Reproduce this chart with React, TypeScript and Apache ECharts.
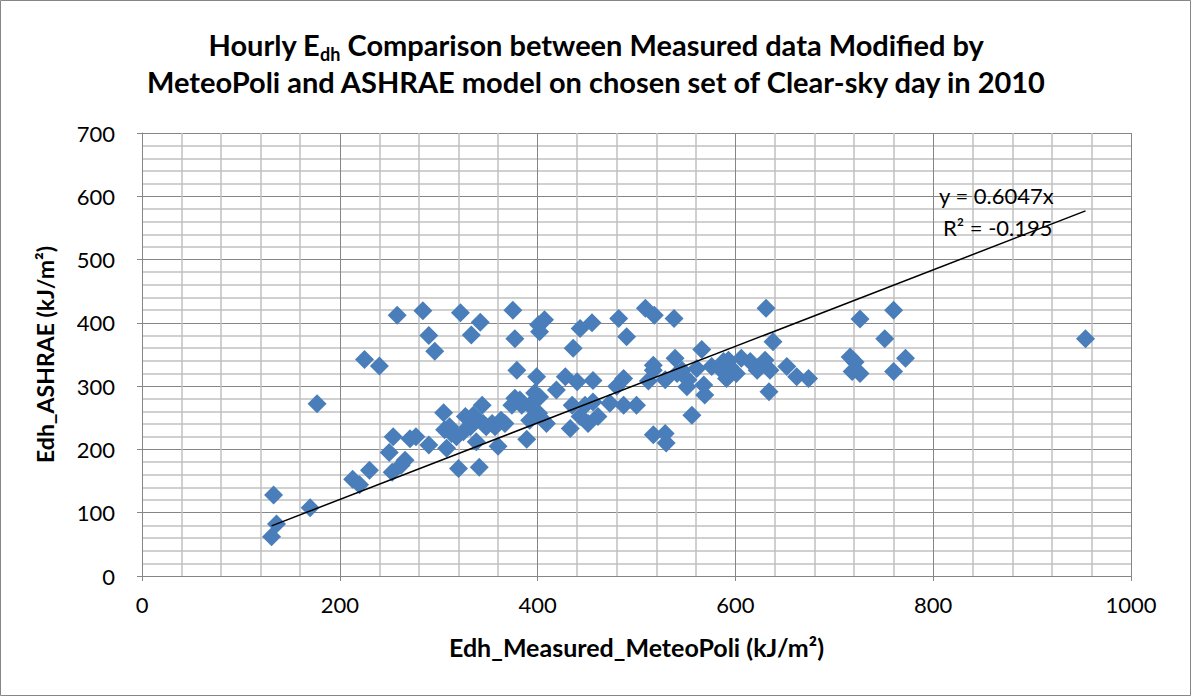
import React, { useEffect, useRef } from "react";
import * as echarts from "echarts";

const measured: number[] = [
  133, 136, 131, 170, 177, 213, 220, 230, 225, 240, 258, 284, 290, 296, 322, 333, 342,
  250, 254, 253, 262, 266, 271, 277, 290, 305, 306, 311, 313, 308, 318, 320, 327, 325,
  332, 335, 338, 337, 341, 344, 345, 348, 354, 357, 360, 363, 367, 374, 377, 382, 384,
  392, 397, 402, 392, 401, 409, 389, 375, 401, 407, 402, 377, 379, 399, 428, 440, 456,
  419, 436, 443, 455, 482, 490, 509, 518, 433, 435, 448, 456, 443, 451, 461, 473, 487,
  500, 480, 487, 517, 512, 517, 529, 538, 539, 541, 546, 561, 552, 551, 568, 569, 566,
  556, 517, 529, 530, 576, 588, 594, 591, 606, 615, 601, 622, 630, 635, 652, 662, 674,
  634, 631, 638, 726, 760, 751, 772, 716, 721, 718, 726, 760, 954, 623, 593, 586,
];
const ashrae: number[] = [
  128, 82, 62, 108, 272, 153, 144, 167, 342, 332, 412, 419, 380, 355, 416, 381, 401,
  195, 220, 164, 175, 183, 217, 220, 207, 258, 231, 236, 225, 202, 220, 170, 252, 228,
  236, 254, 212, 249, 172, 270, 241, 236, 241, 236, 205, 246, 241, 270, 281, 278, 270,
  270, 289, 283, 246, 257, 241, 216, 420, 397, 405, 386, 375, 325, 315, 315, 307, 309,
  294, 360, 391, 400, 407, 378, 423, 412, 233, 270, 270, 275, 252, 241, 252, 273, 270,
  270, 300, 312, 333, 308, 325, 310, 407, 344, 320, 325, 328, 310, 299, 302, 286, 358,
  254, 223, 225, 210, 331, 339, 331, 312, 344, 339, 320, 325, 341, 325, 331, 315, 312,
  291, 423, 370, 406, 420, 375, 344, 346, 338, 323, 320, 323, 375, 330, 341, 325,
];
const trendSlope = 0.6047;
const trendLabel = "y = 0.6047x";
const r2Label = "R² = -0.195";
const xTicks = { min: 0, max: 1000, interval: 200 };
const yTicks = { min: 0, max: 700, interval: 100 };
const titleLine1a = "Hourly E";
const titleSub = "dh";
const titleLine1b = " Comparison between Measured data Modified by";
const titleLine2 = "MeteoPoli and ASHRAE model on chosen set of Clear-sky day in 2010";
const xName = "Edh_Measured_MeteoPoli (kJ/m²)";
const yName = "Edh_ASHRAE (kJ/m²)";

const FONT = "Lato";

export default function App() {
  const ref = useRef<HTMLDivElement>(null);
  useEffect(() => {
    if (!ref.current) return;
    const chart = echarts.init(ref.current, undefined, { renderer: "svg" });
    const points = measured.map((x, i) => [x, ashrae[i]]);
    const xmin = Math.min(...measured);
    const xmax = Math.max(...measured);
    const trend = [
      [xmin, trendSlope * xmin],
      [xmax, trendSlope * xmax],
    ];
    const axisLine = { show: true, lineStyle: { color: "#868686", width: 1 } };
    chart.setOption({
      animation: false,
      backgroundColor: "#ffffff",
      title: {
        left: "center",
        top: 21,
        text:
          "{a|" + titleLine1a + "}{s|" + titleSub + "}{a|" + titleLine1b + "}\n{a|" + titleLine2 + "}",
        textStyle: {
          rich: {
            a: { fontSize: 29, fontWeight: "bold", fontFamily: FONT, lineHeight: 37, color: "#000" },
            s: {
              fontSize: 18,
              fontWeight: "bold",
              fontFamily: FONT,
              lineHeight: 22,
              verticalAlign: "bottom",
              color: "#000",
            },
          },
        },
      },
      grid: { left: 142, right: 61, top: 133, bottom: 121, containLabel: false },
      xAxis: {
        type: "value",
        min: xTicks.min,
        max: xTicks.max,
        interval: xTicks.interval,
        name: xName,
        nameLocation: "middle",
        nameGap: 58,
        nameTextStyle: { fontSize: 25, fontWeight: "bold", fontFamily: FONT, color: "#000" },
        axisLine,
        axisTick: { show: true, inside: false, length: 5, lineStyle: { color: "#868686" } },
        axisLabel: {
          fontSize: 22,
          fontFamily: FONT,
          color: "#000",
          margin: 17,
          formatter: (v: number) => String(v),
        },
        splitLine: { show: true, lineStyle: { color: "#868686", width: 1 } },
        minorTick: { show: false, splitNumber: 5 },
        minorSplitLine: { show: true, lineStyle: { color: "#c0c0c0", width: 1.5 } },
      },
      yAxis: {
        type: "value",
        min: yTicks.min,
        max: yTicks.max,
        interval: yTicks.interval,
        name: yName,
        nameLocation: "middle",
        nameGap: 86,
        nameRotate: 90,
        nameTextStyle: { fontSize: 23, fontWeight: "bold", fontFamily: FONT, color: "#000" },
        axisLine,
        axisTick: { show: true, inside: false, length: 5, lineStyle: { color: "#868686" } },
        axisLabel: {
          fontSize: 22,
          fontFamily: FONT,
          color: "#000",
          margin: 27,
          formatter: (v: number) => String(v),
        },
        splitLine: { show: true, lineStyle: { color: "#868686", width: 1 } },
        minorTick: { show: false, splitNumber: 5 },
        minorSplitLine: { show: true, lineStyle: { color: "#c0c0c0", width: 1.5 } },
      },
      series: [
        {
          type: "scatter",
          data: points,
          symbol: "diamond",
          symbolSize: 19,
          itemStyle: { color: "#4a7ebb", opacity: 1 },
          z: 3,
        },
        {
          type: "line",
          data: trend,
          symbol: "none",
          lineStyle: { color: "#000", width: 1.5 },
          z: 4,
        },
      ],
      graphic: [
        {
          type: "rect",
          shape: { x: 0.5, y: 0.5, width: 1190, height: 695 },
          style: { fill: "none", stroke: "#868686", lineWidth: 1 },
          silent: true,
        },
        {
          type: "text",
          left: 939,
          top: 184,
          style: { text: trendLabel, fontSize: 22, fontFamily: FONT, fill: "#000" },
          z: 10,
        },
        {
          type: "text",
          left: 943,
          top: 216,
          style: { text: r2Label, fontSize: 22, fontFamily: FONT, fill: "#000" },
          z: 10,
        },
      ],
    });
    return () => chart.dispose();
  }, []);
  return (
    <div
      ref={ref}
      style={{ position: "fixed", left: 0, top: 0, width: 1192, height: 697, background: "#fff" }}
    />
  );
}
